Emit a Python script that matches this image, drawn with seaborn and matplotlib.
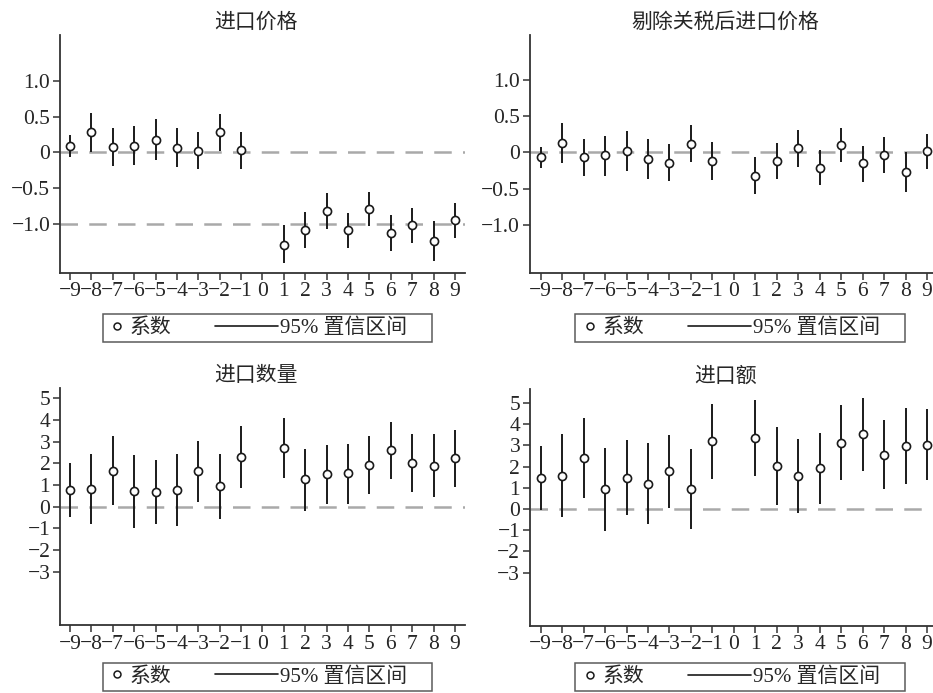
import numpy as np
import pandas as pd
import matplotlib
matplotlib.use('Agg')
import matplotlib.pyplot as plt
import seaborn as sns
from matplotlib.lines import Line2D
from matplotlib.legend_handler import HandlerLine2D

# event time (0 is the omitted base period)
periods = [-9, -8, -7, -6, -5, -4, -3, -2, -1, 1, 2, 3, 4, 5, 6, 7, 8, 9]

# 进口价格
price_coef = [0.09, 0.28, 0.08, 0.09, 0.17, 0.06, 0.02, 0.28, 0.03,
              -1.29, -1.08, -0.82, -1.08, -0.79, -1.13, -1.02, -1.24, -0.95]
price_hi = [0.24, 0.55, 0.34, 0.37, 0.46, 0.34, 0.28, 0.53, 0.29,
            -1.02, -0.83, -0.56, -0.84, -0.55, -0.88, -0.78, -0.96, -0.70]
price_lo = [-0.07, 0.00, -0.19, -0.17, -0.11, -0.21, -0.23, 0.02, -0.23,
            -1.54, -1.34, -1.07, -1.33, -1.03, -1.38, -1.27, -1.52, -1.19]

# 剔除关税后进口价格
nettax_coef = [-0.07, 0.13, -0.06, -0.04, 0.02, -0.09, -0.14, 0.12, -0.12,
               -0.32, -0.12, 0.06, -0.21, 0.10, -0.15, -0.04, -0.27, 0.02]
nettax_hi = [0.08, 0.40, 0.19, 0.22, 0.30, 0.18, 0.12, 0.38, 0.14,
             -0.06, 0.13, 0.31, 0.03, 0.34, 0.09, 0.21, 0.01, 0.26]
nettax_lo = [-0.22, -0.15, -0.33, -0.32, -0.26, -0.37, -0.39, -0.13, -0.38,
             -0.58, -0.37, -0.20, -0.45, -0.13, -0.41, -0.29, -0.54, -0.23]

# 进口数量
qty_coef = [0.77, 0.83, 1.66, 0.71, 0.68, 0.77, 1.63, 0.95, 2.29,
            2.72, 1.26, 1.51, 1.54, 1.94, 2.60, 2.02, 1.88, 2.23]
qty_hi = [2.00, 2.45, 3.25, 2.40, 2.14, 2.42, 3.02, 2.46, 3.71,
          4.11, 2.69, 2.86, 2.92, 3.28, 3.92, 3.34, 3.34, 3.54]
qty_lo = [-0.49, -0.80, 0.08, -0.97, -0.80, -0.89, 0.23, -0.58, 0.88,
          1.32, -0.18, 0.12, 0.15, 0.58, 1.29, 0.68, 0.43, 0.92]

# 进口额
value_coef = [1.46, 1.57, 2.39, 0.93, 1.46, 1.18, 1.78, 0.96, 3.19,
              3.36, 2.01, 1.56, 1.92, 3.13, 3.52, 2.56, 2.99, 3.03]
value_hi = [2.97, 3.55, 4.29, 2.88, 3.24, 3.11, 3.49, 2.85, 4.97,
            5.16, 3.87, 3.30, 3.60, 4.91, 5.24, 4.18, 4.75, 4.70]
value_lo = [-0.03, -0.39, 0.50, -1.02, -0.30, -0.72, 0.06, -0.93, 1.42,
            1.57, 0.19, -0.17, 0.22, 1.35, 1.78, 0.93, 1.19, 1.35]

xticks = list(range(-9, 10))
price_yticks = [1.0, 0.5, 0, -0.5, -1.0]
price_ylabels = ['1.0', '0.5', '0', '\u22120.5', '\u22121.0']
trade_yticks = [5, 4, 3, 2, 1, 0, -1, -2, -3]
trade_ylabels = ['5', '4', '3', '2', '1', '0', '\u22121', '\u22122', '\u22123']

sns.set_style('ticks')
plt.rcParams['font.family'] = ['Liberation Serif', 'Noto Sans CJK SC']
plt.rcParams['axes.unicode_minus'] = True


class LongLine(HandlerLine2D):
    # stretch the line handle to the left, like the Stata legend
    def create_artists(self, legend, orig_handle, xdescent, ydescent,
                       width, height, fontsize, trans):
        return super().create_artists(legend, orig_handle, xdescent + 2 * width,
                                      ydescent, 3 * width, height, fontsize, trans)


def panel(ax, title, coef, lo, hi, ylim, yticks, ylabels, hlines, xlim, leg_xy):
    df = pd.DataFrame({'t': periods, 'b': coef, 'lo': lo, 'hi': hi})
    for y in hlines:
        ax.axhline(y, color='#a9a9a9', lw=1.8, ls=(0, (7, 4.5)), zorder=1)
    ax.vlines(df['t'], df['lo'], df['hi'], color='#1a1a1a', lw=1.4, zorder=2)
    sns.scatterplot(data=df, x='t', y='b', ax=ax, marker='o', s=34,
                    facecolor='white', edgecolor='#1a1a1a', linewidth=1.2,
                    zorder=3, legend=False)
    ax.set_xlim(*xlim)
    ax.set_ylim(*ylim)
    ax.set_xticks(xticks)
    ax.set_xticklabels([str(v).replace('-', '\u2212') for v in xticks])
    ax.set_yticks(yticks)
    ax.set_yticklabels(ylabels)
    ax.set_xlabel('')
    ax.set_ylabel('')
    ax.set_title(title, fontsize=15, x=0.485, pad=5)
    ax.tick_params(axis='both', labelsize=15.5, length=5, width=1.1,
                   color='#333333', pad=2)
    for s in ['top', 'right']:
        ax.spines[s].set_visible(False)
    for s in ['left', 'bottom']:
        ax.spines[s].set_linewidth(1.3)
        ax.spines[s].set_color('#333333')

    h1 = Line2D([], [], ls='none', marker='o', ms=5, mfc='white',
                mec='#1a1a1a', mew=1.1)
    h2 = Line2D([], [], color='#1a1a1a', lw=1.2)
    leg = ax.legend([h1, h2], ['系数', '95% 置信区间    '], ncol=2,
                    loc='upper left', bbox_to_anchor=leg_xy,
                    borderaxespad=0, frameon=True, fancybox=False,
                    fontsize=15, handlelength=1.0, handletextpad=0.1,
                    columnspacing=4.1, borderpad=0.2,
                    handler_map={h2: LongLine()})
    leg.get_frame().set_edgecolor('#333333')
    leg.get_frame().set_linewidth(1.1)


fig = plt.figure(figsize=(9.33, 6.93), dpi=100)
ax1 = fig.add_axes([0.0643, 0.6065, 0.4341, 0.343])
ax2 = fig.add_axes([0.568, 0.6065, 0.432, 0.343])
ax3 = fig.add_axes([0.0643, 0.0977, 0.4341, 0.3423])
ax4 = fig.add_axes([0.568, 0.0971, 0.432, 0.3413])

panel(ax1, '进口价格', price_coef, price_lo, price_hi, (-1.68, 1.64),
      price_yticks, price_ylabels, [0, -1.0], (-9.47, 9.47), (0.105, -0.174))
panel(ax2, '剔除关税后进口价格', nettax_coef, nettax_lo, nettax_hi, (-1.66, 1.62),
      price_yticks, price_ylabels, [0], (-9.5, 9.28), (0.113, -0.174))
panel(ax3, '进口数量', qty_coef, qty_lo, qty_hi, (-5.47, 5.48),
      trade_yticks, trade_ylabels, [0], (-9.47, 9.47), (0.105, -0.159))
panel(ax4, '进口额', value_coef, value_lo, value_hi, (-5.5, 5.65),
      trade_yticks, trade_ylabels, [0], (-9.5, 9.28), (0.113, -0.159))

fig.savefig('out.png', dpi=100, facecolor='white')
